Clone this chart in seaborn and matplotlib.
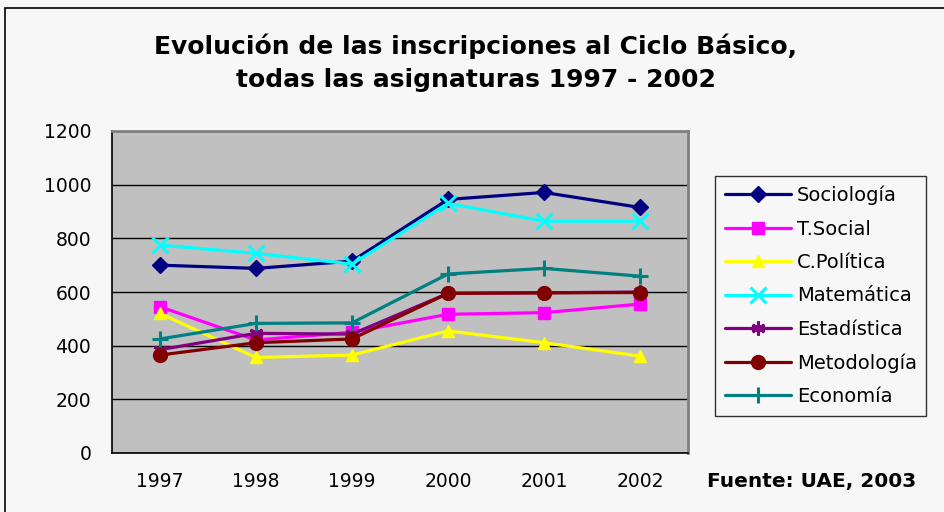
import matplotlib
matplotlib.use("Agg")
import matplotlib.pyplot as plt
import seaborn as sns
import pandas as pd
from matplotlib.patches import Rectangle

# datos
years = ["1997", "1998", "1999", "2000", "2001", "2002"]
sociologia = [700, 688, 715, 945, 971, 915]
t_social = [545, 421, 450, 517, 523, 555]
c_politica = [520, 356, 365, 455, 411, 361]
matematica = [775, 744, 704, 930, 864, 864]
estadistica = [385, 446, 443, 595, 597, 600]
metodologia = [365, 411, 425, 595, 597, 598]
economia = [425, 483, 485, 667, 688, 659]

subjects = ["Sociología", "T.Social", "C.Política", "Matemática",
            "Estadística", "Metodología", "Economía"]
values = [sociologia, t_social, c_politica, matematica,
          estadistica, metodologia, economia]
colors = ["#000080", "#ff00ff", "#ffff00", "#00ffff",
          "#800080", "#800000", "#008080"]
markers = ["D", "s", "^", "x", (6, 2, 0), "o", "+"]
msizes = [8, 9, 9, 11, 10, 10, 12]

rows = []
for name, vals in zip(subjects, values):
    for i, v in enumerate(vals):
        rows.append({"pos": i, "asignatura": name, "inscritos": v})
df = pd.DataFrame(rows)

sns.set_style("white")
plt.rcParams["font.family"] = ["DejaVu Sans"]
plt.rcParams["text.color"] = "black"
plt.rcParams["xtick.color"] = "black"
plt.rcParams["ytick.color"] = "black"

fig = plt.figure(figsize=(9.45, 5.12), dpi=100)
fig.patch.set_facecolor("#f7f7f7")
ax = fig.add_axes([112 / 945, 1 - 453 / 512, 576 / 945, 322 / 512])
ax.set_facecolor("#c0c0c0")

for name, color, mk, ms in zip(subjects, colors, markers, msizes):
    sub = df[df["asignatura"] == name]
    sns.lineplot(data=sub, x="pos", y="inscritos", ax=ax, color=color,
                 marker=mk, markersize=ms, markeredgecolor=color,
                 markeredgewidth=2.2 if mk in ("x", "+", (6, 2, 0)) else 1,
                 linewidth=2.3, label=name, zorder=3)

ax.set_xlim(-0.5, 5.5)
ax.set_ylim(0, 1200)
ax.set_yticks(range(0, 1201, 200))
ax.yaxis.grid(True, color="black", linewidth=1)
ax.set_axisbelow(True)
ax.set_xticks([i - 0.5 for i in range(7)])
ax.set_xticklabels([""] * 7)
ax.set_xticks(range(6), minor=True)
ax.set_xticklabels(years, minor=True)
ax.tick_params(axis="x", which="major", length=6, width=1, color="black", direction="out")
ax.tick_params(axis="x", which="minor", length=0, pad=14, labelsize=13.5, labelcolor="black")
ax.tick_params(axis="y", length=7, width=1, color="black", direction="out",
               labelsize=13.5, pad=8, labelcolor="black")
ax.set_xlabel("")
ax.set_ylabel("")
for side in ["left", "bottom"]:
    ax.spines[side].set_color("black")
    ax.spines[side].set_linewidth(1.2)
for side in ["top", "right"]:
    ax.spines[side].set_color("#808080")
    ax.spines[side].set_linewidth(2)

leg = ax.legend(loc="upper left", bbox_to_anchor=(715 / 945, 1 - 176 / 512),
                bbox_transform=fig.transFigure, frameon=True, fancybox=False,
                fontsize=14, handlelength=3.4, labelspacing=0.74,
                borderpad=0.5, handletextpad=0.3, borderaxespad=0)
leg.get_frame().set_edgecolor("black")
leg.get_frame().set_facecolor("#f7f7f7")
leg.get_frame().set_linewidth(1)
for t in leg.get_texts():
    t.set_color("black")

fig.text(476 / 945, 1 - 46 / 512, "Evolución de las inscripciones al Ciclo Básico,",
         ha="center", va="center", fontsize=18, fontweight="bold", color="black")
fig.text(476 / 945, 1 - 80 / 512, "todas las asignaturas 1997 - 2002",
         ha="center", va="center", fontsize=18, fontweight="bold", color="black")
fig.text(812 / 945, 1 - 482 / 512, "Fuente: UAE, 2003",
         ha="center", va="center", fontsize=14.5, fontweight="bold", color="black")

fig.patches.append(Rectangle((5 / 945, -0.05), 1.1, 1 - 8 / 512 + 0.05,
                             transform=fig.transFigure, fill=False,
                             edgecolor="black", linewidth=1.2))

fig.savefig("out.png", dpi=100, facecolor=fig.get_facecolor())
